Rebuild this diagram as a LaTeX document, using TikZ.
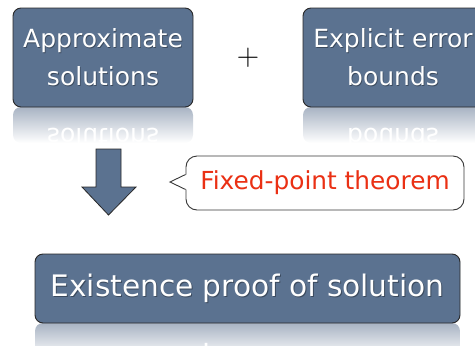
\documentclass[tikz,border=0pt]{standalone}
\usepackage{fontspec}
\newfontfamily\dv{DejaVu Sans}
\usetikzlibrary{calc}
\definecolor{boxblue}{RGB}{91,114,144}
\definecolor{boxline}{RGB}{40,40,40}
\definecolor{reflc}{RGB}{168,179,195}
\definecolor{fpred}{RGB}{234,48,20}
\definecolor{callline}{RGB}{55,55,55}
\begin{document}
\begin{tikzpicture}[x=1pt,y=-1pt,
  bluebox/.style={draw=boxline, line width=0.9pt, fill=boxblue, rounded corners=8pt, inner sep=0pt},
  smalltxt/.style={text=white, align=center, font=\dv\fontsize{25}{38}\selectfont},
  bigtxt/.style={text=white, font=\dv\fontsize{29.6}{36}\selectfont},
  shadowtxt/.style={text=black, text opacity=0.35},
  refltxt/.style={transform shape},
  calloutbox/.style={draw=callline, line width=0.9pt, fill=white, rounded corners=11pt,
     minimum width=278pt, minimum height=54pt, inner sep=0pt, text=fpred,
     font=\dv\fontsize{24.8}{30}\selectfont},
  bigarrow/.style={draw=boxline, line width=0.8pt, fill=boxblue},
  plussign/.style={font=\fontsize{31}{32}\selectfont, text=black}
]
\useasboundingbox (0,0) rectangle (475,346);

% ---------- reflections ----------
\begin{scope}
  \clip (13,107.6) rectangle (193,150);
  \shade[top color=reflc, bottom color=white, rounded corners=8pt] (13,107) rectangle (193,143);
  \begin{scope}[shift={(0,214)}, yscale=-1]
    \node[smalltxt, refltxt] (r1) at (103,57.5) {Approximate\\solutions};
  \end{scope}
\end{scope}
\begin{scope}
  \clip (303,107.6) rectangle (483,150);
  \shade[top color=reflc, bottom color=white, rounded corners=8pt] (303,107) rectangle (483,143);
  \begin{scope}[shift={(0,214)}, yscale=-1]
    \node[smalltxt, refltxt] (r2) at (393,57.5) {Explicit error\\bounds};
  \end{scope}
\end{scope}
\begin{scope}
  \clip (35,323.6) rectangle (460,346);
  \shade[top color=reflc, bottom color=white, rounded corners=8pt] (35,323) rectangle (460,358);
  \begin{scope}[shift={(0,646)}, yscale=-1]
    \node[bigtxt, refltxt] (r3) at (247.5,288.5) {Existence proof of solution};
  \end{scope}
\end{scope}

% ---------- boxes ----------
\node[bluebox, minimum width=180pt, minimum height=99pt] (b1) at (103,57.5) {};
\node[smalltxt, shadowtxt] (s1) at ($(b1)+(0.8,0.9)$) {Approximate\\solutions};
\node[smalltxt] (t1) at (b1) {Approximate\\solutions};

\node[bluebox, minimum width=180pt, minimum height=99pt] (b2) at (393,57.5) {};
\node[smalltxt, shadowtxt] (s2) at ($(b2)+(0.8,0.9)$) {Explicit error\\bounds};
\node[smalltxt] (t2) at (b2) {Explicit error\\bounds};

\node[plussign] (plus) at (248,58) {+};

\node[bluebox, minimum width=425pt, minimum height=69pt] (b3) at (247.5,288.5) {};
\node[bigtxt, shadowtxt] (s3) at ($(b3)+(0.8,0.9)$) {Existence proof of solution};
\node[bigtxt] (t3) at (b3) {Existence proof of solution};

% ---------- arrow ----------
\draw[bigarrow] (96,149) -- (121,149) -- (121,187) -- (136,187) -- (108.5,215)
   -- (82,187) -- (96,187) -- cycle;

% ---------- callout ----------
\node[calloutbox] (fp) at (325,183) {Fixed-point theorem};
\coordinate (tip) at (170,182);
\coordinate (pa) at ($(fp.west)+(0,-8.5)$);
\coordinate (pb) at ($(fp.west)+(0,6.5)$);
\fill[white] ($(pa)+(1.2,0)$) -- (tip) -- ($(pb)+(1.2,0)$) -- cycle;
\draw[callline, line width=0.9pt, line join=miter] (pa) -- (tip) -- (pb);
\end{tikzpicture}
\end{document}
